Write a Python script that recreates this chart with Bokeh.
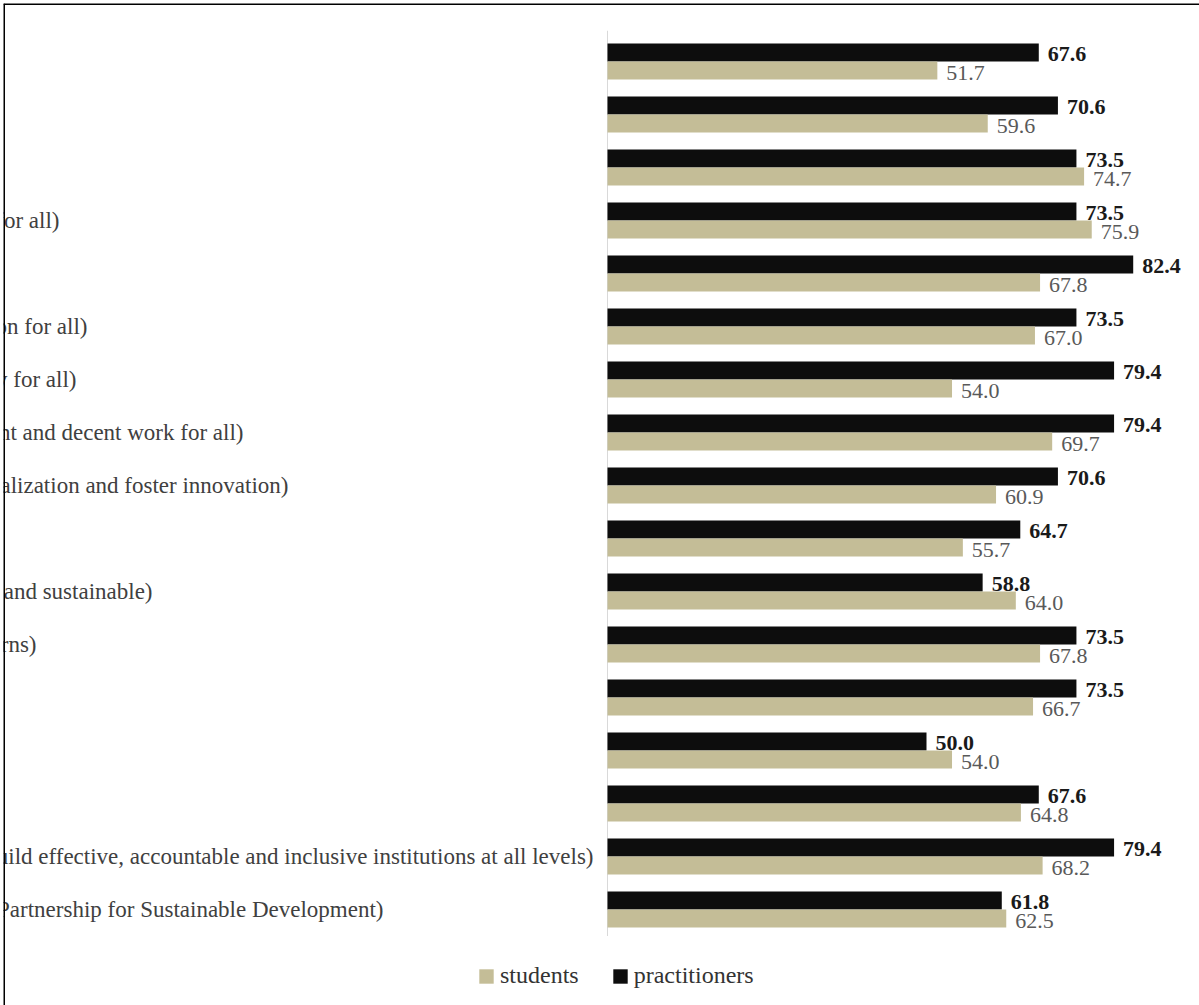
from bokeh.plotting import figure
from bokeh.models import ColumnDataSource, Range1d, Span, Legend, LegendItem
from bokeh.transform import dodge
from bokeh.core.properties import value
from bokeh.embed import file_html
from bokeh.resources import INLINE

# Sustainable Development Goals, top to bottom
goals = [
    "Goal 1 (End poverty in all its forms everywhere)",
    "Goal 2 (End hunger, achieve food security and improved nutrition and promote sustainable agriculture)",
    "Goal 3 (Ensure healthy lives and promote well-being for all at all ages)",
    "Goal 4 (Ensure inclusive and equitable quality education and promote lifelong learning opportunities for all)",
    "Goal 5 (Achieve gender equality and empower all women and girls)",
    "Goal 6 (Ensure availability and sustainable management of water and sanitation for all)",
    "Goal 7 (Ensure access to affordable, reliable, sustainable and modern energy for all)",
    "Goal 8 (Promote sustained, inclusive and sustainable economic growth, full and productive employment and decent work for all)",
    "Goal 9 (Build resilient infrastructure, promote inclusive and sustainable industrialization and foster innovation)",
    "Goal 10 (Reduce inequality within and among countries)",
    "Goal 11 (Make cities and human settlements inclusive, safe, resilient and sustainable)",
    "Goal 12 (Ensure sustainable consumption and production patterns)",
    "Goal 13 (Take urgent action to combat climate change and its impacts)",
    "Goal 14 (Conserve and sustainably use the oceans, seas and marine resources)",
    "Goal 15 (Protect, restore and promote sustainable use of terrestrial ecosystems)",
    "Goal 16 (Promote peaceful and inclusive societies for sustainable development, provide access to justice for all and build effective, accountable and inclusive institutions at all levels)",
    "Goal 17 (Strengthen the means of implementation and revitalize the Global Partnership for Sustainable Development)",
]

# Percentages per group
students = [51.7, 59.6, 74.7, 75.9, 67.8, 67.0, 54.0, 69.7, 60.9, 55.7,
            64.0, 67.8, 66.7, 54.0, 64.8, 68.2, 62.5]
practitioners = [67.6, 70.6, 73.5, 73.5, 82.4, 73.5, 79.4, 79.4, 70.6, 64.7,
                 58.8, 73.5, 73.5, 50.0, 67.6, 79.4, 61.8]

series_names = ["students", "practitioners"]

# Layout: pixel offset of each goal label's right end from the zero line
label_dx = [-640, -640, -640, -548, -640, -520, -531, -364, -319, -640,
            -455, -571, -640, -640, -640, -14, -224]

TAN = "#c4bd97"
BLACK = "#0d0d0d"
FONT_NAME = "'Liberation Serif', 'Times New Roman', serif"
FONT = value(FONT_NAME)

n = len(goals)
src = ColumnDataSource(dict(
    row=list(range(n)),
    goal=goals,
    goal_dx=label_dx,
    students=students,
    practitioners=practitioners,
    stu_label=[f"{v:.1f}" for v in students],
    prac_label=[f"{v:.1f}" for v in practitioners],
))

W, H = 1199, 1005
PX_PER_UNIT = 6.38
ZERO_PX = 607
LEFT, TOP = 3, 3
ROW_PX = 53.0
FIRST_ROW_PX = 61.0

x_start = (LEFT - ZERO_PX) / PX_PER_UNIT
x_end = (W - ZERO_PX) / PX_PER_UNIT
y_top = -(FIRST_ROW_PX - TOP) / ROW_PX
y_bottom = (H - FIRST_ROW_PX) / ROW_PX

p = figure(width=W, height=H, output_backend="svg", toolbar_location=None,
           x_range=Range1d(x_start, x_end), y_range=Range1d(y_bottom, y_top),
           x_axis_type=None, y_axis_type=None,
           min_border_left=LEFT, min_border_top=TOP,
           min_border_right=0, min_border_bottom=0)
p.grid.visible = False
p.outline_line_color = None
p.background_fill_color = "white"
p.border_fill_color = "white"

BAR_H = 0.34
OFF = BAR_H / 2

# zero line of the value axis
p.segment(x0=0, y0=-0.58, x1=0, y1=n - 0.5, line_color="#d9d9d9", line_width=1)

r_prac = p.hbar(y=dodge("row", -OFF, range=p.y_range), left=0, right="practitioners",
                height=BAR_H, source=src, fill_color=BLACK, line_color=None)
r_stu = p.hbar(y=dodge("row", OFF, range=p.y_range), left=0, right="students",
               height=BAR_H, source=src, fill_color=TAN, line_color=None)

# value labels
p.text(x="practitioners", y=dodge("row", -OFF, range=p.y_range), text="prac_label",
       source=src, x_offset=9, y_offset=2, text_align="left", text_baseline="middle",
       text_font=FONT, text_font_size="22px", text_font_style="bold", text_color="#1a1a1a")
p.text(x="students", y=dodge("row", OFF, range=p.y_range), text="stu_label",
       source=src, x_offset=9, y_offset=2, text_align="left", text_baseline="middle",
       text_font=FONT, text_font_size="22px", text_color="#595959")

# goal labels
p.text(x=0, y="row", text="goal", source=src, x_offset="goal_dx",
       text_align="right", text_baseline="middle",
       text_font=FONT, text_font_size="23px", text_color="#404040")

# frame edges on the top and left
p.add_layout(Span(location=x_start, dimension="height", line_color="#000000", line_width=3))
p.add_layout(Span(location=y_top, dimension="width", line_color="#000000", line_width=3))

legend = Legend(
    items=[LegendItem(label=series_names[0], renderers=[r_stu]),
           LegendItem(label=series_names[1], renderers=[r_prac])],
    orientation="horizontal", location=(474, 16),
    glyph_width=18, glyph_height=18, label_standoff=5, spacing=32,
    padding=0, margin=0, border_line_color=None, background_fill_alpha=0,
    label_text_font=FONT_NAME, label_text_font_size="24px",
    label_text_color="#333333",
)
p.add_layout(legend)

open("out.html", "w").write(file_html(p, INLINE))
